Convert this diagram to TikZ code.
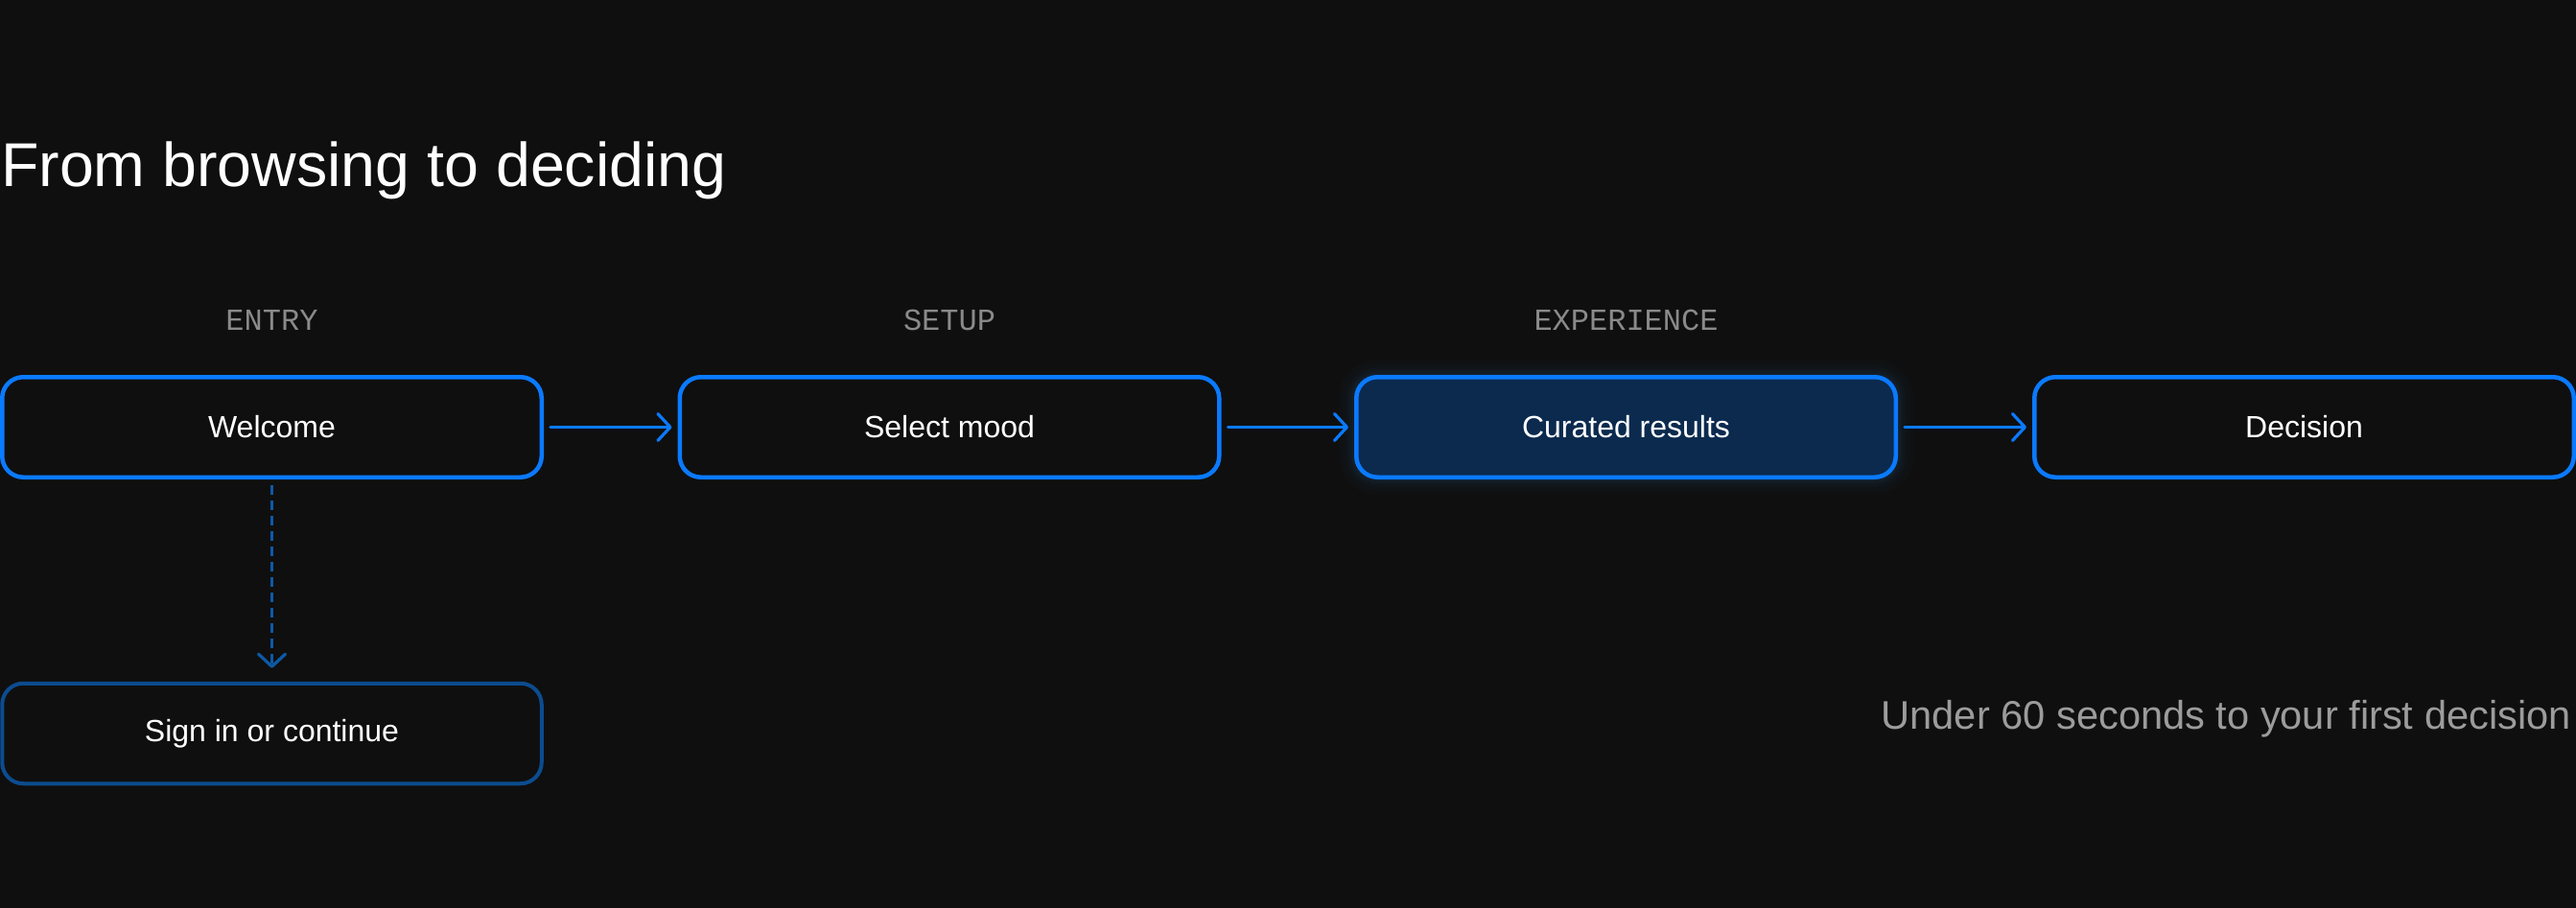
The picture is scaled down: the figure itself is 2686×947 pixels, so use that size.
\documentclass[tikz,border=0pt]{standalone}
\usepackage{fontspec}
\setmainfont{Liberation Sans}
\newfontfamily\stagefont{Liberation Mono}
\usetikzlibrary{arrows.meta}
\definecolor{bg}{HTML}{0F0F0F}
\definecolor{accentblue}{HTML}{0A7AFF}
\definecolor{dimblue}{HTML}{0B4C8F}
\definecolor{dashblue}{HTML}{0D5AA8}
\definecolor{curfill}{HTML}{0B2A4E}
\definecolor{labelgrey}{HTML}{8A8A8A}
\definecolor{notegrey}{HTML}{9C9C9C}
\tikzset{
  stepbox/.style={draw=accentblue, line width=4.5pt, rounded corners=22pt,
    minimum width=562.5pt, minimum height=104.5pt, text=white,
    font=\fontsize{32}{38}\selectfont, inner sep=0pt},
  stagelabel/.style={text=labelgrey, font=\stagefont\fontsize{32}{38}\selectfont, inner sep=0pt},
  flow/.style={draw=accentblue, line width=3.2pt, line cap=round,
    -{Straight Barb[length=13pt,width=28pt,line width=3.2pt,round]}},
  optflow/.style={draw=dashblue, line width=3.2pt, dash pattern=on 10pt off 6pt,
    -{Straight Barb[length=13pt,width=28pt,line width=3.2pt,round]}}
}
\begin{document}
\begin{tikzpicture}[x=1pt,y=-1pt]
\fill[bg] (0,0) rectangle (2686,947);
\useasboundingbox (0,0) rectangle (2686,947);

% title
\node[anchor=base west, inner sep=0pt, text=white, font=\fontsize{64.5}{76}\selectfont] (title) at (1,194) {From browsing to deciding};

% stage labels
\node[stagelabel] (lentry) at (283.5,334) {ENTRY};
\node[stagelabel] (lsetup) at (990,334) {SETUP};
\node[stagelabel] (lexp) at (1695.5,334) {EXPERIENCE};

% glow behind curated
\foreach \w/\o in {36/0.02,28/0.025,20/0.03,14/0.04,9/0.05} {
  \draw[accentblue!60!gray, opacity=\o, line width=\w pt, rounded corners=22pt] (1414,393) rectangle (1977,498);
}

% steps
\node[stepbox] (welcome) at (283.5,445.5) {Welcome};
\node[stepbox] (mood) at (990,445.5) {Select mood};
\node[stepbox, fill=curfill] (curated) at (1695.5,445.5) {Curated results};
\node[stepbox] (decision) at (2402.5,445.5) {Decision};
\node[stepbox, draw=dimblue, line width=4pt] (signin) at (283.5,765) {Sign in or continue};

% connectors
\draw[flow, shorten <=7pt, shorten >=6pt] (welcome) -- (mood);
\draw[flow, shorten <=7pt, shorten >=6pt] (mood) -- (curated);
\draw[flow, shorten <=7pt, shorten >=6pt] (curated) -- (decision);
\draw[optflow, shorten <=6pt, shorten >=14pt] (welcome) -- (signin);

% note
\node[anchor=east, inner sep=0pt, text=notegrey, font=\fontsize{41.6}{48}\selectfont] (note) at (2681,750) {Under 60 seconds to your first decision};
\end{tikzpicture}
\end{document}
